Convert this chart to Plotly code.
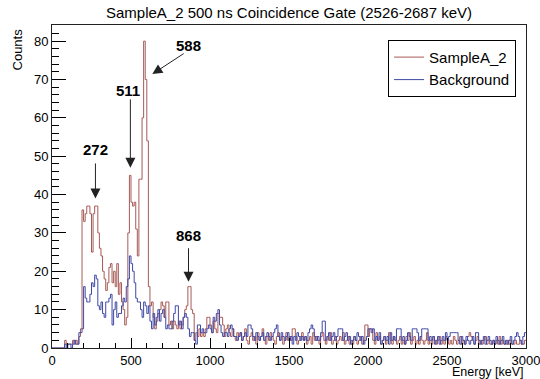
import plotly.graph_objects as go

# ---------------- data ----------------
BIN_WIDTH = 10  # keV
E_MIN = 0
N_BINS = 300

sample_counts = [
    0, 0, 0, 0, 0, 0, 0, 0, 2, 1, 1, 1, 1, 2, 1, 2, 1, 3, 5, 36,
    33, 35, 37, 37, 35, 25, 35, 37, 37, 30, 26, 24, 20, 18, 15, 17, 21, 22, 17, 20,
    16, 22, 14, 17, 12, 10, 6, 8, 30, 45, 38, 37, 38, 31, 24, 44, 44, 60, 80, 70,
    54, 16, 11, 12, 8, 5, 7, 9, 10, 12, 11, 8, 12, 12, 6, 7, 5, 7, 6, 5,
    7, 5, 6, 8, 10, 11, 16, 16, 10, 9, 2, 4, 3, 5, 3, 4, 3, 5, 8, 8,
    6, 4, 7, 5, 4, 9, 8, 8, 6, 3, 5, 6, 4, 3, 5, 3, 2, 4, 3, 4,
    2, 3, 5, 2, 1, 3, 4, 2, 3, 1, 4, 2, 3, 5, 2, 1, 3, 2, 4, 3,
    2, 1, 3, 4, 2, 3, 1, 2, 4, 2, 3, 2, 5, 5, 3, 1, 2, 3, 4, 2,
    3, 1, 2, 3, 1, 4, 2, 3, 2, 1, 3, 4, 2, 1, 3, 2, 4, 1, 2, 3,
    1, 2, 3, 2, 4, 1, 2, 3, 1, 2, 1, 3, 2, 1, 2, 3, 1, 2, 6, 6,
    3, 5, 5, 2, 1, 4, 2, 3, 1, 2, 3, 1, 2, 4, 2, 1, 3, 2, 1, 2,
    3, 1, 2, 1, 3, 2, 4, 1, 2, 3, 1, 2, 1, 3, 2, 1, 2, 4, 1, 2,
    1, 3, 2, 1, 2, 3, 1, 2, 1, 3, 2, 1, 2, 1, 3, 2, 1, 2, 3, 1,
    2, 1, 2, 3, 4, 3, 2, 1, 2, 3, 1, 2, 1, 2, 3, 1, 2, 1, 1, 2,
    1, 2, 1, 3, 1, 2, 1, 1, 2, 1, 2, 1, 1, 2, 1, 1, 2, 1, 1, 2,
]

background_counts = [
    0, 0, 0, 0, 0, 0, 0, 0, 1, 0, 1, 1, 0, 1, 2, 1, 1, 4, 4, 5,
    16, 13, 12, 12, 14, 17, 16, 19, 18, 11, 10, 12, 9, 8, 12, 12, 13, 14, 6, 10,
    12, 8, 9, 9, 11, 13, 12, 16, 18, 24, 22, 20, 17, 13, 12, 12, 10, 8, 12, 11,
    9, 11, 7, 5, 9, 6, 8, 10, 7, 9, 10, 8, 5, 6, 5, 5, 7, 9, 11, 11,
    6, 7, 5, 8, 9, 8, 5, 3, 4, 4, 2, 1, 6, 6, 4, 5, 4, 4, 5, 6,
    5, 4, 8, 7, 9, 10, 6, 4, 3, 4, 4, 3, 5, 6, 5, 3, 3, 2, 3, 4,
    2, 3, 4, 3, 6, 6, 5, 3, 2, 4, 3, 2, 3, 4, 2, 3, 4, 3, 2, 3,
    4, 5, 6, 3, 2, 4, 3, 2, 3, 4, 2, 3, 1, 3, 2, 4, 3, 2, 3, 2,
    3, 2, 4, 5, 6, 5, 3, 2, 3, 2, 4, 7, 7, 2, 3, 4, 2, 3, 4, 2,
    3, 5, 5, 5, 2, 3, 4, 2, 3, 1, 2, 3, 2, 4, 3, 2, 3, 1, 2, 3,
    5, 5, 4, 5, 2, 3, 2, 4, 1, 2, 3, 2, 3, 1, 4, 2, 3, 2, 5, 5,
    5, 2, 3, 1, 2, 4, 3, 2, 5, 5, 5, 4, 2, 3, 5, 5, 5, 5, 2, 3,
    2, 3, 1, 2, 3, 1, 2, 3, 2, 4, 2, 3, 4, 4, 4, 4, 4, 2, 1, 3,
    2, 1, 3, 2, 1, 2, 3, 1, 4, 4, 2, 1, 2, 3, 1, 2, 3, 2, 1, 2,
    1, 3, 2, 1, 2, 3, 1, 2, 1, 2, 3, 1, 2, 3, 4, 3, 2, 1, 3, 4,
]

# peak labels
peak_labels = ["272", "511", "588", "868"]
peak_text_xy = [(275, 51.8), (483, 67.2), (862, 78.9), (864, 29.2)]
peak_arrow_tail = [(275, 48.5), (496, 65.2), (843, 77.0), (864, 26.4)]
peak_arrow_head = [(275, 39.0), (496, 47.0), (635, 71.4), (864, 17.3)]

title_text = "SampleA_2 500 ns Coincidence Gate (2526-2687 keV)"
x_title = "Energy [keV]"
y_title = "Counts"
x_tickvals = [0, 500, 1000, 1500, 2000, 2500, 3000]

# ---------------- figure ----------------
edges = [E_MIN + i * BIN_WIDTH for i in range(N_BINS + 1)]

RED = "#a65a56"
BLUE = "#3f48a6"
FONT = "Liberation Sans, Arial, Helvetica, sans-serif"

fig = go.Figure()
fig.add_trace(go.Scatter(
    x=edges, y=sample_counts + [sample_counts[-1]], mode="lines",
    line=dict(color=RED, width=1, shape="hv"), name="SampleA_2",
))
fig.add_trace(go.Scatter(
    x=edges, y=background_counts + [background_counts[-1]], mode="lines",
    line=dict(color=BLUE, width=1, shape="hv"), name="Background",
))

annotations = []
for lab, (tx, ty), (ax_, ay_), (hx, hy) in zip(peak_labels, peak_text_xy, peak_arrow_tail, peak_arrow_head):
    annotations.append(dict(x=tx, y=ty, xref="x", yref="y", text="<b>%s</b>" % lab,
                            showarrow=False, font=dict(size=15, family=FONT, color="black")))
    annotations.append(dict(x=hx, y=hy, ax=ax_, ay=ay_, xref="x", yref="y", axref="x", ayref="y",
                            text="", showarrow=True, arrowhead=2, arrowsize=2, arrowwidth=1,
                            arrowcolor="#222222", standoff=0, startstandoff=0))

annotations.append(dict(x=1.0, y=-0.0735, xref="paper", yref="paper", text=x_title,
                        showarrow=False, xanchor="right", yanchor="middle",
                        font=dict(size=12.5, family=FONT, color="black")))
annotations.append(dict(x=-0.072, y=0.995, xref="paper", yref="paper", text=y_title,
                        showarrow=False, xanchor="center", yanchor="top", textangle=-90,
                        font=dict(size=13, family=FONT, color="black")))

fig.update_layout(
    width=540, height=379,
    margin=dict(l=52, r=14, t=25, b=31, autoexpand=False),
    plot_bgcolor="white", paper_bgcolor="white",
    font=dict(family=FONT, color="black", size=13),
    title=dict(text=title_text, x=0.5, xref="paper", xanchor="center",
               y=1 - 13 / 379, yref="container", yanchor="middle",
               font=dict(size=15, family=FONT, color="black")),
    showlegend=True,
    legend=dict(x=0.709, y=0.954, xanchor="left", yanchor="top",
                bordercolor="black", borderwidth=1, bgcolor="white",
                font=dict(size=15, family=FONT, color="black"),
                tracegroupgap=0, itemwidth=30),
    annotations=annotations,
)

fig.update_xaxes(
    range=[0, 3000], tickvals=x_tickvals, ticks="inside", ticklen=10, tickwidth=1,
    tickcolor="black", minor=dict(dtick=100, ticks="inside", ticklen=5, tickcolor="black"),
    showline=True, mirror=True, linecolor="#222222", linewidth=1,
    showgrid=False, zeroline=False, tickfont=dict(size=13),
    ticklabeloverflow="allow", automargin=False,
)
fig.update_yaxes(
    range=[0, 84.2], dtick=10, tick0=0, ticks="inside", ticklen=14, tickwidth=1,
    tickcolor="black", minor=dict(dtick=2, ticks="inside", ticklen=7, tickcolor="black"),
    showline=True, mirror=True, linecolor="#222222", linewidth=1,
    showgrid=False, zeroline=False, tickfont=dict(size=13), automargin=False,
)

fig.write_html("out.html")
